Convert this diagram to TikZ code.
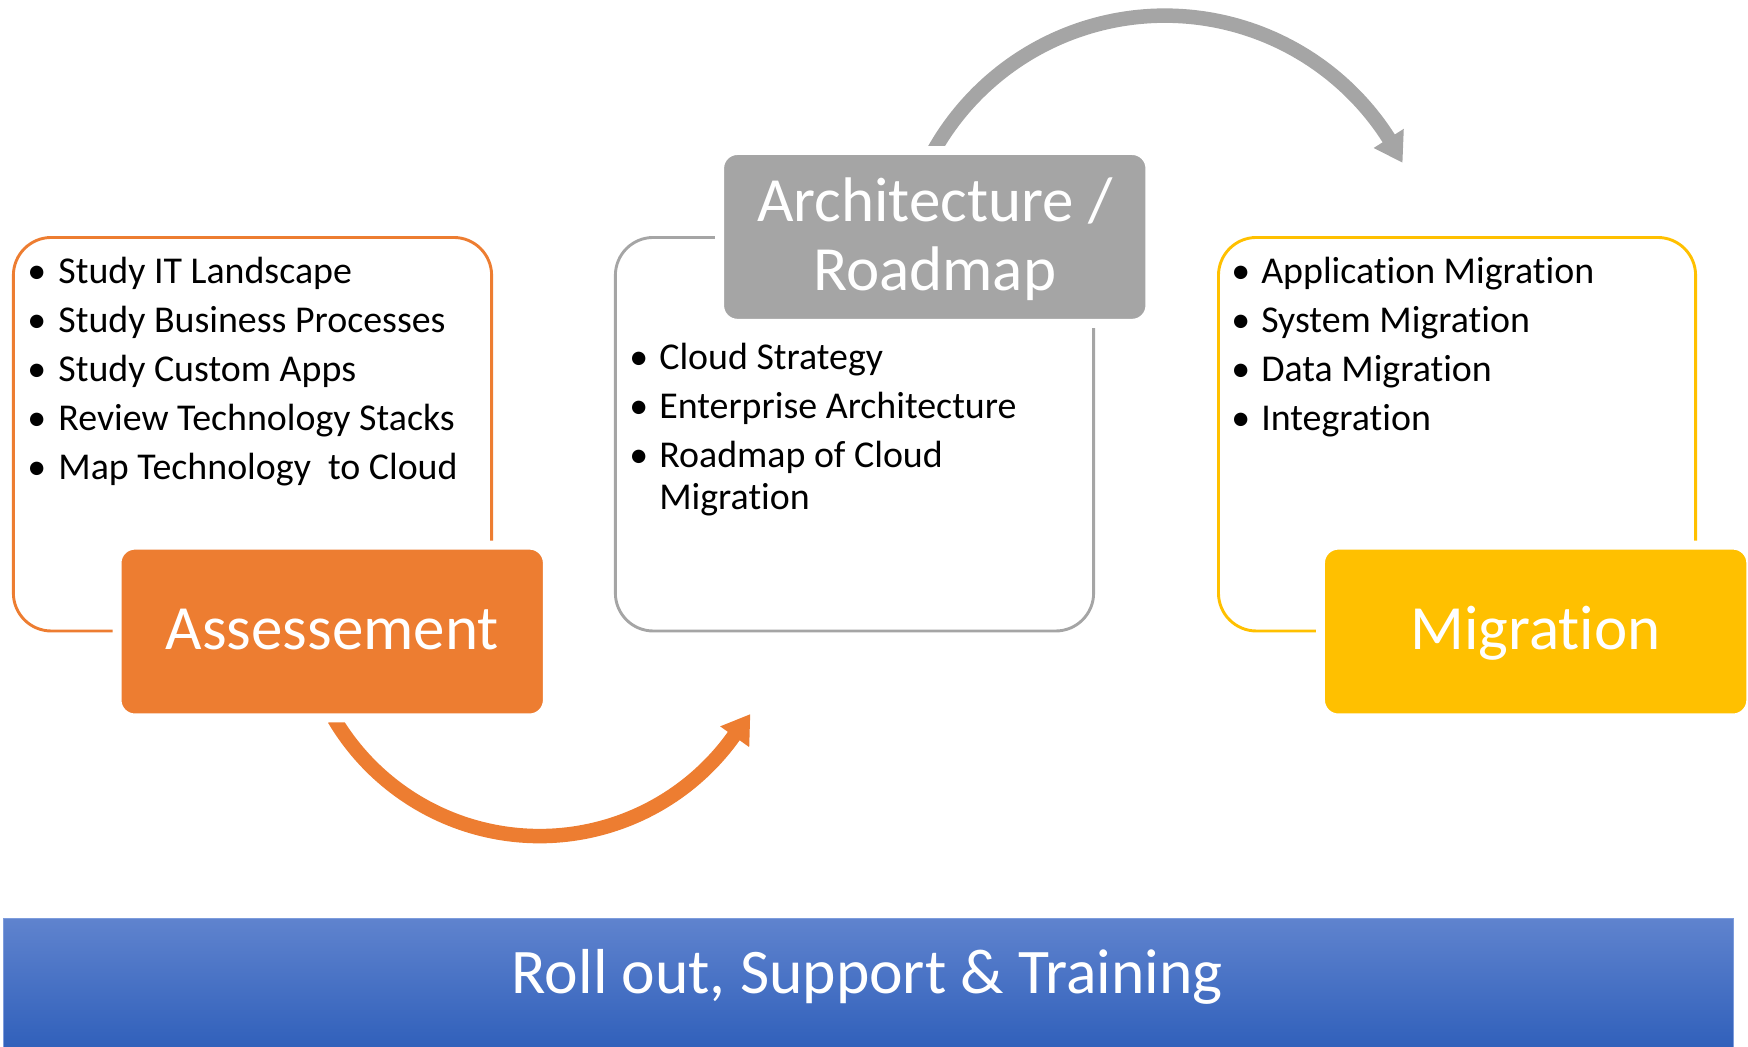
\documentclass[tikz,border=0pt]{standalone}
\usepackage{fontspec}
\setmainfont{Carlito}[RawFeature={-liga;-clig;-dlig}]
\definecolor{orangeC}{HTML}{ED7D31}
\definecolor{grayC}{HTML}{A5A5A5}
\definecolor{yellowC}{HTML}{FFC000}
\definecolor{blueTop}{HTML}{5F83CE}
\definecolor{blueBot}{HTML}{2F5FBA}
\definecolor{blueEdge}{HTML}{7D9CDC}
\begin{document}
\begin{tikzpicture}[x=0.5pt,y=-0.5pt,
  outlinebox/.style={draw, line width=1.3pt, rounded corners=17pt, minimum width=#1, minimum height=176.5pt, inner sep=0pt},
  tagbox/.style={draw=white, line width=4pt, rounded corners=8pt, minimum width=193pt, minimum height=77.5pt, inner sep=0pt},
  tagtext/.style={anchor=base, inner sep=0pt, text=white, font=\fontsize{28.25}{31}\selectfont},
  bul/.style={anchor=base, inner sep=0pt, font=\fontsize{17}{20}\selectfont},
  btext/.style={anchor=base west, inner sep=0pt, font=\fontsize{17}{20}\selectfont},
  arcline/.style={line width=6.5pt}
]
\useasboundingbox (0,0) rectangle (1568,939);

% outline boxes
\node[outlinebox=214.5pt, orangeC] (assessOut) at (226.5,389.5) {};
\node[outlinebox=214.5pt, grayC] (archOut) at (766.5,389.5) {};
\node[outlinebox=214pt, yellowC] (migOut) at (1307,389.5) {};

% curved arrows
\coordinate (oStart) at ({484+214*cos(149.4)},{536+214*sin(149.4)});
\coordinate (oTip) at ({484+216*cos(29)},{536+216*sin(29)});
\draw[orangeC, arcline] plot[domain=149.4:34, samples=90] ({484+214*cos(\x)},{536+214*sin(\x)});
\fill[orangeC] ({484+199*cos(35.5)},{536+199*sin(35.5)}) -- (oTip) -- ({484+231*cos(35.5)},{536+231*sin(35.5)}) -- cycle;

\coordinate (gStart) at ({1045+238*cos(209)},{252+238*sin(209)});
\coordinate (gTip) at ({1045+238*cos(333.5)},{252+238*sin(333.5)});
\draw[grayC, arcline] plot[domain=209:329, samples=90] ({1045+238*cos(\x)},{252+238*sin(\x)});
\fill[grayC] ({1045+222*cos(327.5)},{252+222*sin(327.5)}) -- (gTip) -- ({1045+254*cos(327.5)},{252+254*sin(327.5)}) -- cycle;

% tag boxes
\node[tagbox, fill=orangeC] (assess) at (298,566.5) {};
\node[tagtext] (assessT) at (298,583) {Assessement};
\node[tagbox, fill=grayC] (arch) at (838.5,212.5) {};
\node[tagtext] (archT1) at (838.5,199) {Architecture /};
\node[tagtext] (archT2) at (838.5,261) {Roadmap};
\node[tagbox, fill=yellowC] (mig) at (1377.5,566.5) {};
\node[tagtext] (migT) at (1377.5,583) {Migrat\kern0pt ion};

% left bullets
\node[bul] (lb1) at (33,254) {\textbullet};
\node[btext] (lt1) at (52,254) {Study IT Landscape};
\node[bul] (lb2) at (33,298) {\textbullet};
\node[btext] (lt2) at (52,298) {Study Business Processes};
\node[bul] (lb3) at (33,342) {\textbullet};
\node[btext] (lt3) at (52,342) {Study Custom Apps};
\node[bul] (lb4) at (33,386) {\textbullet};
\node[btext] (lt4) at (52,386) {Review Technology Stacks};
\node[bul] (lb5) at (33,430) {\textbullet};
\node[btext] (lt5) at (52,430) {Map Technology~ to Cloud};

% middle bullets
\node[bul] (mb1) at (573,331) {\textbullet};
\node[btext] (mt1) at (591,331) {Cloud Strategy};
\node[bul] (mb2) at (573,375) {\textbullet};
\node[btext] (mt2) at (591,375) {Enterprise Architecture};
\node[bul] (mb3) at (573,419) {\textbullet};
\node[btext] (mt3) at (591,419) {Roadmap of Cloud};
\node[btext] (mt4) at (591,457) {Migrat\kern0pt ion};

% right bullets
\node[bul] (rb1) at (1113,254) {\textbullet};
\node[btext] (rt1) at (1131,254) {Applicat\kern0pt ion Migrat\kern0pt ion};
\node[bul] (rb2) at (1113,298) {\textbullet};
\node[btext] (rt2) at (1131,298) {System Migrat\kern0pt ion};
\node[bul] (rb3) at (1113,342) {\textbullet};
\node[btext] (rt3) at (1131,342) {Data Migrat\kern0pt ion};
\node[bul] (rb4) at (1113,386) {\textbullet};
\node[btext] (rt4) at (1131,386) {Integrat\kern0pt ion};

% bottom bar
\node[top color=blueTop, bottom color=blueBot, draw=blueEdge, line width=0.6pt, minimum width=776pt, minimum height=60pt, inner sep=0pt] (bar) at (779,884) {};
\node[anchor=base, inner sep=0pt, text=white, font=\fontsize{28.5}{32}\selectfont] (barT) at (778,891) {Roll out, Support \& Training};
\end{tikzpicture}
\end{document}
